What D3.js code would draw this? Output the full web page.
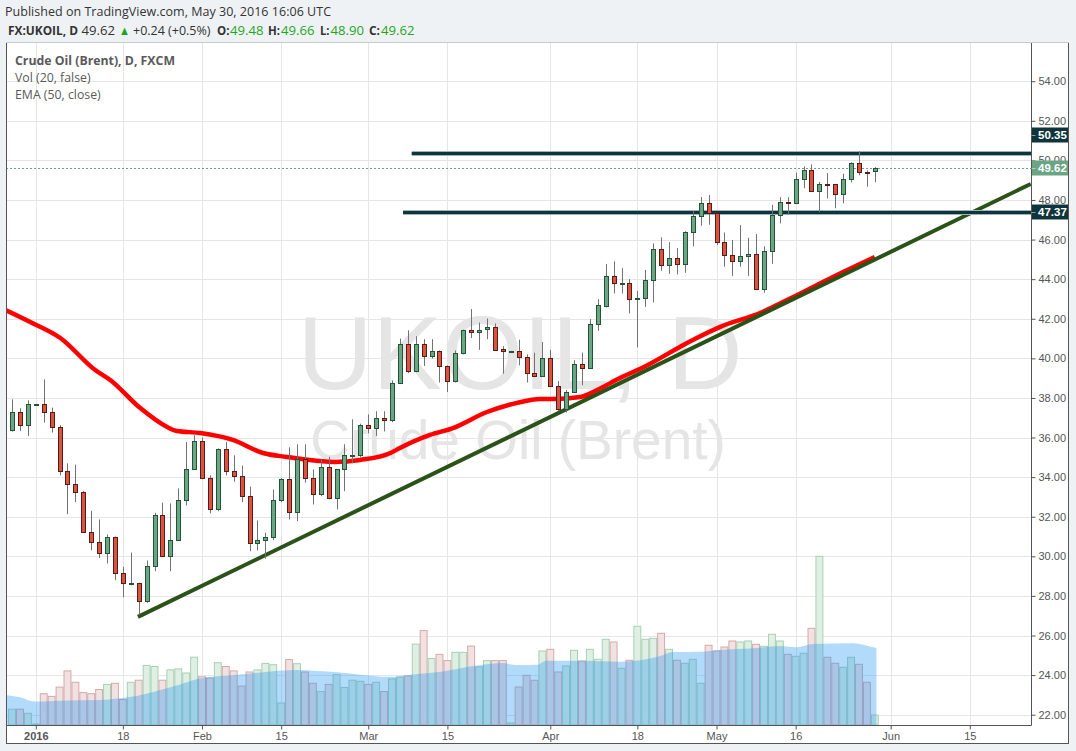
<!DOCTYPE html>
<html><head><meta charset="utf-8">
<script src="https://cdn.jsdelivr.net/npm/d3@7"></script>
<style>
html,body{margin:0;padding:0;background:#eff2f5;}
svg{display:block;}
</style></head><body>
<svg id="c" width="1076" height="751"></svg>
<script>
// ---------------- DATA ----------------
// bar index 0 = 1 Jan 2016 (weekday index); first visible bar is index -3
const firstBar = -3;
const opens = [36.38,37.31,36.63,37.68,37.68,37.31,36.55,34.33,33.67,33.26,31.22,30.72,30.18,30.99,29.17,28.65,28.66,27.75,29.52,32.10,30.01,30.84,32.86,34.43,35.84,33.97,32.40,35.40,34.33,34.06,33.04,30.68,30.84,30.99,32.86,33.92,32.25,34.90,33.97,33.16,34.53,32.96,34.39,35.10,35.10,36.62,36.50,37.00,36.88,38.78,40.70,39.37,40.75,40.12,40.35,39.62,38.87,40.25,41.42,41.33,41.46,41.56,40.45,40.35,40.35,40.09,39.28,39.13,40.04,38.62,37.46,38.32,39.69,39.52,41.73,42.65,44.15,43.78,43.79,42.98,43.07,43.94,45.50,44.70,45.05,44.75,46.36,47.17,47.83,47.32,45.86,45.20,44.90,45.15,45.25,43.48,45.40,47.23,47.88,47.83,49.05,49.50,48.44,48.82,48.79,48.29,49.05,49.86,49.40,49.48];
const highs = [37.93,37.48,37.88,37.70,38.94,37.51,36.62,34.70,34.63,33.30,32.30,31.86,31.10,31.00,29.47,30.19,28.66,29.79,32.20,32.71,32.67,33.43,35.77,36.11,36.00,34.09,35.45,35.77,35.10,34.58,33.52,31.81,31.19,33.38,33.95,35.51,35.66,35.66,34.39,34.90,35.03,34.40,35.66,36.92,36.70,37.17,37.33,37.33,38.89,41.00,41.42,41.12,40.97,40.97,40.40,39.65,40.40,41.45,42.49,41.81,42.01,41.76,40.62,40.38,40.95,40.20,40.29,40.82,40.43,38.86,38.41,39.91,40.29,41.98,42.99,44.77,44.90,44.56,44.00,43.41,44.46,45.81,46.11,45.87,45.57,46.42,47.44,48.15,48.25,47.35,46.36,45.98,46.73,46.09,46.28,45.66,47.75,48.14,48.14,49.38,49.70,49.80,48.91,49.36,48.80,49.33,49.91,50.46,49.50,49.66];
const lows = [36.30,36.33,36.08,37.66,36.75,36.25,34.09,32.13,32.74,31.18,30.31,29.91,29.64,28.79,27.93,28.54,27.06,27.65,29.25,30.00,29.25,30.80,32.57,34.40,33.90,32.17,32.28,34.09,33.77,32.74,30.26,30.30,29.88,30.82,32.74,31.86,31.78,33.72,32.62,33.04,32.88,32.37,33.29,34.70,35.00,36.21,36.08,36.31,36.78,38.70,39.25,39.30,39.62,39.99,38.78,38.30,38.78,40.20,41.03,40.43,40.97,40.40,39.23,40.33,39.65,38.78,39.05,39.10,38.60,37.33,37.26,38.30,38.64,39.50,41.39,42.57,43.28,43.28,42.27,40.55,42.60,42.82,44.42,44.27,44.24,44.32,45.66,46.70,46.75,45.72,44.63,44.17,44.63,44.17,43.45,43.31,44.78,46.82,47.26,47.80,48.59,48.42,47.38,48.07,47.58,47.83,48.89,49.25,48.67,48.90];
const closes = [37.31,36.63,37.68,37.69,37.31,36.55,34.33,33.67,33.26,31.22,30.72,30.18,30.99,29.17,28.66,28.67,27.75,29.52,32.10,30.01,30.84,32.86,34.43,35.84,33.95,32.40,35.40,34.33,34.06,33.04,30.68,30.84,30.99,32.86,33.92,32.25,34.90,33.97,33.16,34.53,32.96,34.39,35.10,35.12,36.62,36.48,37.00,36.88,38.78,40.70,39.37,40.75,40.12,40.35,39.62,38.87,40.25,41.42,41.35,41.45,41.56,40.43,40.35,40.36,40.09,39.28,39.10,40.04,38.61,37.46,38.32,39.69,39.52,41.73,42.69,44.15,43.79,43.80,42.98,43.07,43.94,45.50,44.70,45.05,44.75,46.36,47.17,47.83,47.32,45.86,45.20,44.90,45.15,45.25,43.48,45.40,47.23,47.88,47.83,49.05,49.50,48.44,48.79,48.79,48.29,49.05,49.86,49.40,49.38,49.62];
const volumes = [15.8,15.8,11.7,1,31.3,28.6,37.9,54.1,42.7,32.4,31.3,35.5,40.6,41.7,25.5,42.7,44.8,59.6,58.5,44.8,55.1,56.1,52,67.8,48.2,47,62.3,58.5,54.1,38.9,53,55.1,61.6,60.3,22,65.4,61.3,53,41.7,33.4,40.6,50.3,37.5,44.8,43.7,40.6,42.7,33.4,46.1,47.9,49,80.9,94.4,66.5,70.6,64.4,72.7,72.7,78.9,58,64.4,64.4,64.4,2,38,49.7,44.7,74,75.7,53,59,74.7,64,75.7,65.7,85.7,83,56.7,64.7,98.7,85.7,86.7,91.7,75.7,64.7,61.7,65.7,41.7,79.7,74,78,84,83,84,80.7,78.7,90.7,84,70.7,68.7,71.7,96.7,168.7,67.7,61.7,57.7,67.7,60.7,42.7,10];
// EMA(50, close): [bar index, value]
const emaPoints = [[-3.8,42.44],[-0.7,41.84],[3.1,41.03],[7.5,39.41],[9.4,38.91],[13.2,37.49],[16.6,36.53],[17.8,36.33],[20.8,36.23],[24.9,35.88],[28.7,35.22],[31.7,35.02],[37.6,34.77],[41.0,34.87],[44.8,35.22],[46.0,35.47],[49.8,36.13],[52.7,36.48],[57.0,37.29],[60.8,37.75],[63.7,37.95],[65.3,37.95],[68.8,38.05],[70.9,38.40],[73.8,39.01],[76.3,39.46],[83.0,40.93],[86.4,41.58],[91.5,42.29],[95.7,43.10],[100.7,44.11],[106.0,45.12]];
// Volume MA(20): [bar index, value]
const volMaPoints = [[-3.8,30],[-1.9,27.5],[-0.2,23.4],[4.2,24.4],[8.1,25],[10.3,26.5],[12.9,29.2],[15.5,34.4],[18.1,40.3],[20.7,46.5],[23.3,48.9],[25.9,50.6],[29.4,53.3],[32.9,55],[35.5,54],[38.1,52.7],[40.7,50.6],[44.6,48.2],[47.6,50.6],[51.2,53.3],[55.5,59.2],[59.0,62],[60.5,60],[63.3,60.2],[64.5,64.3],[69.6,64.3],[73.8,63.3],[78.9,69],[80.5,73],[83.9,73.3],[86.4,75],[90.7,76.7],[94.0,79],[96.1,77.7],[98.2,81],[103.3,81.7],[105.8,77.7],[106.2,77]];
// trend line and horizontal levels
const trendLine = [[12.9,26.94],[125.7,48.81]];
const levels = [50.35, 47.37];
const levelStarts = [47.5, 46.4];
const lastPrice = 49.62;
// axes
const timeTickIdx = [0,11,21,31,42,52,65,76,86,96,108,118];
const timeTickLabels = ["2016","18","Feb","15","Mar","15","Apr","18","May","16","Jun","15"];
const priceTicks = [22,24,26,28,30,32,34,36,38,40,42,44,46,48,50,52,54];

// ---------------- CHART ----------------
const svg = d3.select("#c");
const L = 6, R = 1031, T = 42, B = 725, FR = 1069, FB = 744;
const x = d3.scaleLinear().domain([0,118]).range([35.8,969.8]);
const y = d3.scaleLinear().domain([22,54]).range([714.7,81.2]);
const yv = d3.scaleLinear().domain([0,100]).range([B,B-100]);
const FONT = "'Open Sans','Noto Sans',Arial,sans-serif";
const AX = "'Liberation Sans',Arial,sans-serif";

svg.append("rect").attr("width",1076).attr("height",751).attr("fill","#eff2f5");
svg.append("rect").attr("x",L).attr("y",T).attr("width",FR-L).attr("height",FB-T).attr("fill","#fff");

const defs = svg.append("defs");
defs.append("clipPath").attr("id","plot").append("rect").attr("x",L+1).attr("y",T+1).attr("width",R-L-1).attr("height",B-T-1);

// grid
const grid = svg.append("g").attr("clip-path","url(#plot)");
grid.selectAll(".gh").data(priceTicks).join("line")
  .attr("x1",L).attr("x2",R).attr("y1",d=>Math.round(y(d))+0.5).attr("y2",d=>Math.round(y(d))+0.5)
  .attr("stroke","#e6e6e6");
grid.selectAll(".gv").data(timeTickIdx).join("line")
  .attr("y1",T).attr("y2",B).attr("x1",d=>Math.round(x(d))+0.5).attr("x2",d=>Math.round(x(d))+0.5)
  .attr("stroke","#e6e6e6");

// watermark
const wm = svg.append("g").attr("clip-path","url(#plot)").attr("font-family",AX).attr("fill","#e5e5e5").attr("text-anchor","middle");
wm.append("text").attr("x",520).attr("y",389).attr("font-size",104).text("UKOIL, D");
wm.append("text").attr("x",518).attr("y",459).attr("font-size",55).text("Crude Oil (Brent)");

const bars = d3.range(opens.length).map(k=>({i:firstBar+k,o:opens[k],h:highs[k],l:lows[k],c:closes[k],v:volumes[k]}));
const plot = svg.append("g").attr("clip-path","url(#plot)");

// volume bars
const bw = x(1)-x(0);
plot.selectAll(".vb").data(bars).join("rect")
  .attr("x",d=>x(d.i)-bw/2+0.5).attr("width",bw-1)
  .attr("y",d=>yv(d.v)).attr("height",d=>B-yv(d.v))
  .attr("fill",d=>d.c>=d.o?"#e0efe4":"#f1e1e1")
  .attr("stroke",d=>d.c>=d.o?"#a8d0b4":"#d4aaaa").attr("stroke-width",1);
// volume MA area
plot.append("path").datum(volMaPoints)
  .attr("d",d3.area().x(d=>x(d[0])).y0(B).y1(d=>yv(d[1])).curve(d3.curveMonotoneX))
  .attr("fill","rgba(33,150,243,0.35)");

// EMA
plot.append("path").datum(emaPoints)
  .attr("d",d3.line().x(d=>x(d[0])).y(d=>y(d[1])).curve(d3.curveMonotoneX))
  .attr("fill","none").attr("stroke","#ff0000").attr("stroke-width",4.5).attr("stroke-linejoin","round");

// trend line
plot.append("line").attr("x1",x(trendLine[0][0])).attr("y1",y(trendLine[0][1]))
  .attr("x2",x(trendLine[1][0])).attr("y2",y(trendLine[1][1]))
  .attr("stroke","#2b5218").attr("stroke-width",4);

// last price dotted line
plot.append("line").attr("x1",L).attr("x2",R).attr("y1",Math.round(y(lastPrice))+0.5).attr("y2",Math.round(y(lastPrice))+0.5)
  .attr("stroke","#6ba583").attr("stroke-dasharray","2,2");

// horizontal levels
levels.forEach((lv,k)=>{
  const yy = y(lv);
  plot.append("line").attr("x1",x(levelStarts[k])).attr("x2",R).attr("y1",yy).attr("y2",yy).attr("stroke","#9fb3b9").attr("stroke-width",5);
  plot.append("line").attr("x1",x(levelStarts[k])).attr("x2",R).attr("y1",yy).attr("y2",yy).attr("stroke","#10343b").attr("stroke-width",3);
});

// candles
const cg = plot.append("g");
bars.forEach(d=>{
  const cx = Math.round(x(d.i));
  const up = d.c>=d.o;
  cg.append("line").attr("x1",cx+0.5).attr("x2",cx+0.5).attr("y1",y(d.h)).attr("y2",y(d.l)).attr("stroke","#737375");
  const t = Math.round(y(Math.max(d.o,d.c)))+0.5, b = Math.round(y(Math.min(d.o,d.c)))+0.5;
  cg.append("rect").attr("x",cx-1.5).attr("width",4).attr("y",t).attr("height",Math.max(1,b-t))
    .attr("fill",up?"#6ba583":"#d75442").attr("stroke",up?"#225437":"#5b1a13");
});

// frame & axes lines
svg.append("line").attr("x1",R+0.5).attr("x2",R+0.5).attr("y1",T).attr("y2",B+0.5).attr("stroke","#555");
svg.append("line").attr("x1",L).attr("x2",R+0.5).attr("y1",B+0.5).attr("y2",B+0.5).attr("stroke","#555");
svg.append("rect").attr("x",L+0.5).attr("y",T+0.5).attr("width",FR-L-1).attr("height",FB-T-1).attr("fill","none").attr("stroke","#555");
svg.append("line").attr("x1",L).attr("x2",FR).attr("y1",T+0.5).attr("y2",T+0.5).attr("stroke","#c9c9c9");

// price axis
const ya = svg.append("g").attr("transform",`translate(${R+0.5},0)`)
  .call(d3.axisRight(y).tickValues(priceTicks).tickFormat(d3.format(".2f")).tickSize(4).tickPadding(3));
ya.select(".domain").remove();
ya.selectAll(".tick line").attr("stroke","#555");
ya.selectAll(".tick text").attr("font-family",AX).attr("font-size",11).attr("fill","#555");

// time axis
const xa = svg.append("g").attr("transform",`translate(0,${B+0.5})`)
  .call(d3.axisBottom(x).tickValues(timeTickIdx).tickFormat((d,i)=>timeTickLabels[i]).tickSize(4).tickPadding(3));
xa.select(".domain").remove();
xa.selectAll(".tick line").attr("stroke","#555");
xa.selectAll(".tick text").attr("font-family",AX).attr("font-size",11).attr("fill","#555")
  .attr("font-weight",(d,i)=>i===0?"bold":"normal");

// price labels
const labs = [
  {v:levels[0], dy:-18, bg:"#10343b"},
  {v:lastPrice, dy:0, bg:"#6ba583"},
  {v:levels[1], dy:0, bg:"#10343b"}
];
labs.forEach(l=>{
  const yy = Math.round(y(l.v)+l.dy);
  svg.append("rect").attr("x",R+1).attr("y",yy-7.5).attr("width",FR-R-2).attr("height",15).attr("fill",l.bg);
  svg.append("line").attr("x1",R+0.5).attr("x2",R+4.5).attr("y1",yy+0.5).attr("y2",yy+0.5).attr("stroke","#fff").attr("stroke-opacity",0.5);
  svg.append("text").attr("x",R+7).attr("y",yy+4).attr("font-family",AX).attr("font-size",11.5).attr("font-weight","bold")
    .attr("fill","#fff").text(l.v.toFixed(2));
});

// header texts
svg.append("text").attr("x",5).attr("y",16).attr("font-family",FONT).attr("font-size",12.5).attr("fill","#333")
  .attr("textLength",326).attr("lengthAdjust","spacing")
  .text("Published on TradingView.com, May 30, 2016 16:06 UTC");
const G = "#1fa51f";
const hdr = [
  {t:"FX:UKOIL, D", x:8, w:70, b:true, c:"#333"},
  {t:"49.62", x:81.5, w:33.5, b:false, c:"#333"},
  {t:"▲", x:119, w:11, b:false, c:G},
  {t:"+0.24 (+0.5%)", x:133, w:77.5, b:false, c:"#333"},
  {t:"O:", x:217, w:12.5, b:true, c:"#333"},
  {t:"49.48", x:230, w:33.5, b:false, c:G},
  {t:"H:", x:268, w:12, b:true, c:"#333"},
  {t:"49.66", x:281, w:33.5, b:false, c:G},
  {t:"L:", x:320, w:9.5, b:true, c:"#333"},
  {t:"48.90", x:330.5, w:33.5, b:false, c:G},
  {t:"C:", x:369, w:11, b:true, c:"#333"},
  {t:"49.62", x:381, w:33.5, b:false, c:G}
];
const hg = svg.append("g").attr("font-family",FONT).attr("font-size",13);
hdr.forEach(h=>{
  hg.append("text").attr("x",h.x).attr("y",34.5).attr("fill",h.c).attr("font-weight",h.b?"bold":"normal")
    .attr("textLength",h.w).attr("lengthAdjust","spacingAndGlyphs").text(h.t);
});

// legend
const lg = svg.append("g").attr("font-family",FONT).attr("font-size",12.3).attr("fill","#5a5a5a");
lg.append("text").attr("x",15).attr("y",65).attr("font-weight","bold").text("Crude Oil (Brent), D, FXCM");
lg.append("text").attr("x",15).attr("y",82).text("Vol (20, false)");
lg.append("text").attr("x",15).attr("y",99).text("EMA (50, close)");
</script>
</body></html>
